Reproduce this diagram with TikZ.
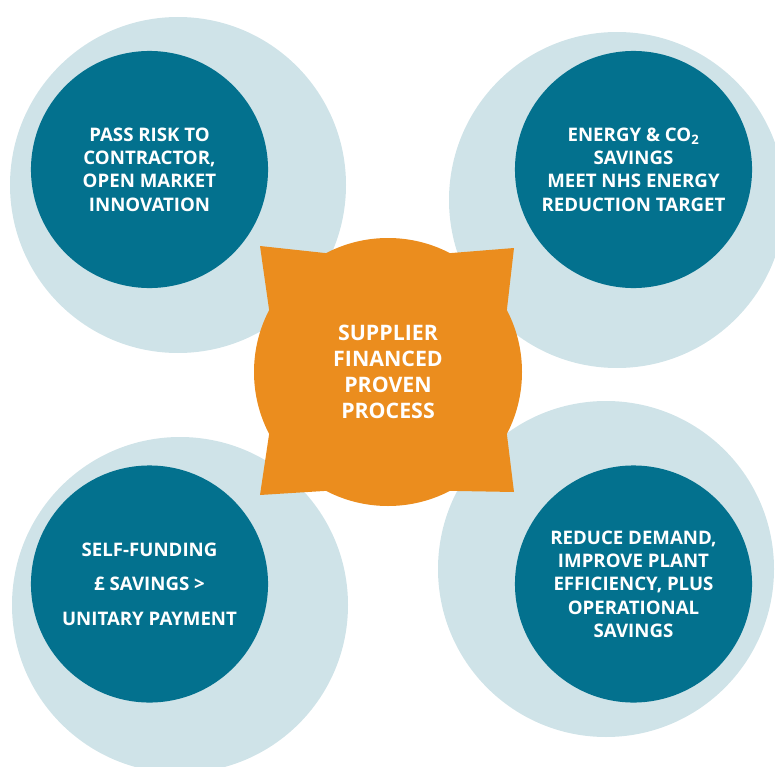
\documentclass[tikz,border=0pt]{standalone}
\usepackage{fontspec}
\setmainfont{Open Sans}
\usetikzlibrary{calc}

\definecolor{paleblue}{HTML}{CFE3E8}
\definecolor{darkteal}{HTML}{03718E}
\definecolor{hubfill}{HTML}{EB8D1E}

\tikzset{
  bubbletext/.style={text=white, align=center, font=\bfseries\fontsize{14}{17.5}\selectfont},
  widetext/.style={bubbletext, font=\bfseries\fontsize{14}{26}\selectfont},
  hubtext/.style={text=white, align=center, font=\bfseries\fontsize{16}{19.5}\selectfont}
}

\begin{document}
\begin{tikzpicture}[x=0.75pt, y=-0.75pt]
        \useasboundingbox (0,0) rectangle (775,767);
        \clip (0,0) rectangle (775,767);

        \coordinate (oA) at (178,185);
        \coordinate (oB) at (617,200);
        \coordinate (oC) at (180,605);
        \coordinate (oD) at (606,569);

        \coordinate (iA) at (149.5,169.5);
        \coordinate (iB) at (633.5,169.5);
        \coordinate (iC) at (149.5,584);
        \coordinate (iD) at (633.5,584);

        \foreach \p in {oA, oB, oC, oD}
            \fill[paleblue] (\p) circle (126pt);
        \foreach \p in {iA, iB, iC, iD}
            \fill[darkteal] (\p) circle (88.9pt);

        \coordinate (hub) at (388,372);
        \coordinate (nw) at (260,246);
        \coordinate (ne) at (514,248);
        \coordinate (sw) at (260,495);
        \coordinate (se) at (514,492);

        \fill[hubfill] (hub) circle (100.5pt);
        \foreach \c/\a in {nw/135, ne/45, sw/225, se/315}
            \fill[hubfill] (hub) -- ($(hub)+(\a-17.5:100.5pt)$) -- (\c) -- ($(hub)+(\a+17.5:100.5pt)$) -- cycle;

        \node[bubbletext] (risk) at (iA) {PASS RISK TO\\CONTRACTOR,\\OPEN MARKET\\INNOVATION};
        \node[bubbletext] (energy) at (iB) {ENERGY \& CO\textsubscript{2}\\SAVINGS\\MEET NHS ENERGY\\REDUCTION TARGET};
        \node[widetext] (funding) at (iC) {SELF-FUNDING\\\pounds{} SAVINGS >\\UNITARY PAYMENT};
        \node[bubbletext] (demand) at (iD) {REDUCE DEMAND,\\IMPROVE PLANT\\EFFICIENCY, PLUS\\OPERATIONAL\\SAVINGS};
        \node[hubtext] (process) at (hub) {SUPPLIER\\FINANCED\\PROVEN\\PROCESS};
    \end{tikzpicture}
\end{document}
